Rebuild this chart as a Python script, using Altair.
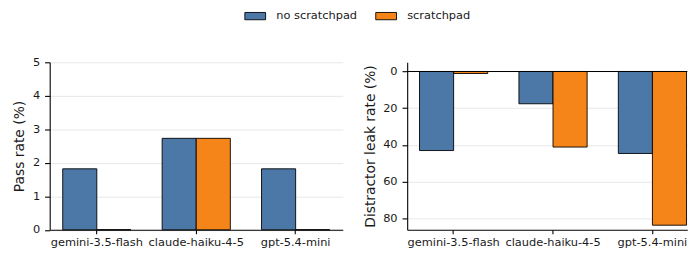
import altair as alt
import pandas as pd

models = ["gemini-3.5-flash", "claude-haiku-4-5", "gpt-5.4-mini"]
conditions = ["no scratchpad", "scratchpad"]
pass_no_scratchpad = [1.82, 2.73, 1.82]
pass_scratchpad = [0.0, 2.73, 0.0]
leak_no_scratchpad = [43.1, 17.6, 44.7]
leak_scratchpad = [1.1, 41.2, 83.8]
pass_ticks = [0, 1, 2, 3, 4, 5]
leak_ticks = [0, 20, 40, 60, 80]
leak_reference = [0]
bar_colors = ["#4C78A8", "#F58518"]


def long_table(no_vals, sp_vals):
    rows = []
    for m, a, b in zip(models, no_vals, sp_vals):
        rows.append({"model": m, "condition": conditions[0], "value": a})
        rows.append({"model": m, "condition": conditions[1], "value": b})
    return pd.DataFrame(rows)


pass_df = long_table(pass_no_scratchpad, pass_scratchpad)
leak_df = long_table(leak_no_scratchpad, leak_scratchpad)

FONT = "DejaVu Sans"
TEXT = "#1a1a1a"

legend = alt.Legend(
    title=None, orient="none", direction="horizontal", legendX=202, legendY=-53,
    symbolType="M-2,-0.7H2V0.7H-2Z", symbolSize=110.25, symbolOpacity=1,
    symbolStrokeColor="black", symbolStrokeWidth=0.9,
    labelFontSize=11.5, labelFont=FONT, labelColor=TEXT, labelOffset=15.25,
    columnPadding=15.5, padding=0,
)
color = alt.Color("condition:N", scale=alt.Scale(domain=conditions, range=bar_colors), legend=legend)
offset = alt.XOffset("condition:N", sort=conditions,
                     scale=alt.Scale(paddingInner=0, paddingOuter=0, round=False))
x_axis = alt.Axis(title=None, labelAngle=0, grid=False)

left = alt.Chart(pass_df).mark_bar(stroke="black", strokeWidth=0.9).encode(
    x=alt.X("model:N", sort=models,
            scale=alt.Scale(paddingInner=0.314, paddingOuter=0.131, round=False), axis=x_axis),
    xOffset=offset,
    y=alt.Y("value:Q", scale=alt.Scale(domain=[0, 5], nice=False, zero=True),
            axis=alt.Axis(title="Pass rate (%)", values=pass_ticks, grid=True)),
    color=color,
).properties(width=296.6, height=169.5)

right_bars = alt.Chart(leak_df).mark_bar(stroke="black", strokeWidth=0.9).encode(
    x=alt.X("model:N", sort=models,
            scale=alt.Scale(paddingInner=0.314, paddingOuter=0.066, align=0.94, round=False),
            axis=x_axis),
    xOffset=offset,
    y=alt.Y("value:Q", scale=alt.Scale(domain=[-5, 86.3], reverse=True, nice=False, zero=False),
            axis=alt.Axis(title="Distractor leak rate (%)", values=leak_ticks, grid=True)),
    y2=alt.datum(0),
    color=color,
)
right_rule = alt.Chart(pd.DataFrame({"level": leak_reference})).mark_rule(
    color="black", strokeWidth=1.1
).encode(y=alt.datum(leak_reference[0]))

right = alt.layer(right_bars, right_rule).properties(width=283.5, height=169.5)

chart = (
    alt.hconcat(left, right, spacing=64.8, bounds="flush")
    .resolve_scale(color="shared")
    .configure(font=FONT, padding={"left": 4.2, "top": 0.5, "right": 0, "bottom": 0})
    .configure_view(stroke=None)
    .configure_axis(
        labelFont=FONT, labelFontSize=11.5, labelColor=TEXT,
        titleFont=FONT, titleFontSize=14, titleFontWeight="normal", titleColor=TEXT,
        domainColor="black", domainWidth=1.1, tickColor="black", tickWidth=1.1,
        titlePadding=5.6, gridColor="#e8e8e8", gridWidth=1.0,
    )
    .configure_axisY(tickSize=5.2, labelPadding=5)
    .configure_axisX(tickSize=4, labelPadding=2.5)
)

chart.save("out.html", embed_options={"renderer": "svg", "actions": False})
